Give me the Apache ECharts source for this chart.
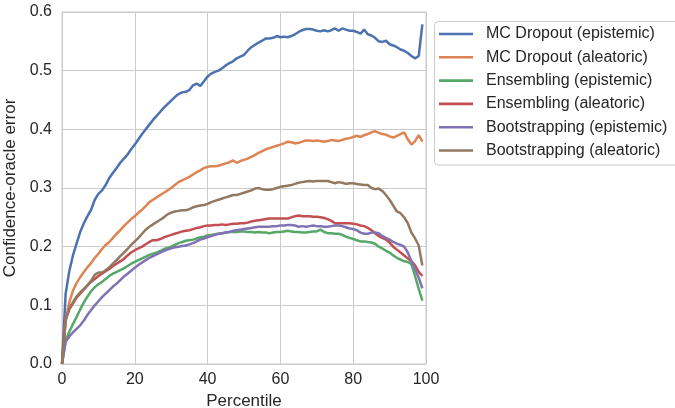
<!DOCTYPE html>
<html>
<head>
<meta charset="utf-8">
<script src="https://cdn.jsdelivr.net/npm/echarts@6/dist/echarts.min.js"></script>
<style>html,body{margin:0;padding:0;background:#fff;}#c{width:675px;height:408px;}</style>
</head>
<body>
<div id="c"></div>
<script>
const percentiles = Array.from({length: 100}, (_, i) => i);
const xTicks = [0, 20, 40, 60, 80, 100];
const yTicks = [0.0, 0.1, 0.2, 0.3, 0.4, 0.5, 0.6];
const seriesNames = ["MC Dropout (epistemic)", "MC Dropout (aleatoric)", "Ensembling (epistemic)", "Ensembling (aleatoric)", "Bootstrapping (epistemic)", "Bootstrapping (aleatoric)"];

const mcEpistemic = [0.0,0.12,0.158,0.185,0.205,0.225,0.24,0.252,0.263,0.28,0.29,0.296,0.305,0.317,0.326,0.334,0.343,0.35,0.357,0.366,0.374,0.383,0.392,0.4,0.408,0.416,0.423,0.43,0.437,0.443,0.449,0.455,0.46,0.463,0.464,0.467,0.475,0.478,0.474,0.482,0.49,0.495,0.498,0.5,0.504,0.509,0.513,0.516,0.521,0.524,0.527,0.534,0.54,0.544,0.548,0.551,0.555,0.555,0.556,0.559,0.557,0.558,0.557,0.559,0.562,0.566,0.569,0.571,0.571,0.57,0.568,0.567,0.569,0.567,0.569,0.572,0.568,0.572,0.57,0.568,0.568,0.566,0.563,0.57,0.562,0.56,0.556,0.55,0.549,0.551,0.545,0.543,0.54,0.536,0.534,0.53,0.525,0.521,0.525,0.579];
const mcAleatoric = [0.0,0.075,0.105,0.125,0.138,0.148,0.157,0.165,0.172,0.181,0.188,0.196,0.203,0.208,0.215,0.222,0.228,0.235,0.241,0.247,0.252,0.258,0.263,0.269,0.276,0.28,0.284,0.288,0.292,0.296,0.3,0.305,0.31,0.313,0.316,0.319,0.323,0.327,0.33,0.334,0.336,0.337,0.337,0.338,0.34,0.342,0.344,0.347,0.343,0.346,0.348,0.35,0.353,0.356,0.36,0.363,0.366,0.368,0.37,0.372,0.374,0.376,0.379,0.378,0.376,0.377,0.379,0.381,0.381,0.38,0.381,0.38,0.379,0.38,0.382,0.381,0.38,0.382,0.384,0.385,0.387,0.389,0.387,0.39,0.392,0.395,0.397,0.394,0.392,0.391,0.388,0.386,0.389,0.392,0.395,0.383,0.374,0.38,0.39,0.379];
const ensEpistemic = [0.0,0.04,0.055,0.068,0.08,0.093,0.105,0.115,0.124,0.131,0.136,0.14,0.145,0.15,0.154,0.157,0.16,0.163,0.167,0.171,0.174,0.177,0.18,0.183,0.186,0.188,0.19,0.193,0.196,0.198,0.2,0.203,0.206,0.208,0.21,0.211,0.212,0.214,0.216,0.217,0.219,0.22,0.221,0.222,0.223,0.224,0.225,0.225,0.225,0.226,0.226,0.225,0.225,0.224,0.225,0.224,0.224,0.223,0.224,0.225,0.225,0.226,0.227,0.226,0.225,0.225,0.224,0.224,0.225,0.226,0.226,0.229,0.225,0.223,0.223,0.222,0.222,0.22,0.217,0.215,0.213,0.211,0.209,0.209,0.208,0.207,0.205,0.2,0.197,0.193,0.19,0.185,0.181,0.178,0.175,0.174,0.17,0.15,0.128,0.108];
const ensAleatoric = [0.0,0.075,0.093,0.103,0.113,0.12,0.127,0.134,0.14,0.145,0.15,0.154,0.158,0.162,0.167,0.171,0.175,0.179,0.185,0.19,0.194,0.197,0.2,0.204,0.208,0.211,0.211,0.213,0.216,0.218,0.22,0.222,0.224,0.226,0.227,0.228,0.23,0.232,0.233,0.235,0.236,0.236,0.237,0.237,0.238,0.237,0.238,0.239,0.239,0.24,0.24,0.241,0.243,0.244,0.245,0.246,0.247,0.248,0.248,0.248,0.248,0.248,0.248,0.25,0.252,0.253,0.252,0.252,0.252,0.251,0.251,0.25,0.249,0.247,0.244,0.24,0.24,0.24,0.24,0.24,0.239,0.238,0.236,0.235,0.232,0.228,0.223,0.218,0.215,0.212,0.207,0.2,0.195,0.19,0.185,0.18,0.175,0.168,0.157,0.15];
const bootEpistemic = [0.0,0.038,0.047,0.054,0.06,0.066,0.074,0.084,0.092,0.1,0.107,0.114,0.12,0.126,0.132,0.137,0.143,0.149,0.154,0.159,0.164,0.169,0.173,0.177,0.181,0.184,0.187,0.19,0.193,0.195,0.197,0.199,0.2,0.201,0.202,0.204,0.206,0.209,0.212,0.214,0.216,0.218,0.22,0.222,0.223,0.224,0.225,0.227,0.228,0.229,0.23,0.231,0.232,0.233,0.234,0.234,0.234,0.234,0.235,0.235,0.236,0.236,0.237,0.237,0.236,0.234,0.235,0.234,0.235,0.236,0.235,0.235,0.234,0.234,0.235,0.236,0.236,0.235,0.233,0.231,0.23,0.228,0.224,0.222,0.222,0.224,0.224,0.223,0.218,0.215,0.212,0.208,0.205,0.203,0.2,0.19,0.175,0.162,0.147,0.129];
const bootAleatoric = [0.0,0.075,0.095,0.105,0.115,0.122,0.128,0.134,0.142,0.152,0.156,0.156,0.16,0.165,0.171,0.177,0.184,0.19,0.196,0.203,0.209,0.215,0.222,0.229,0.234,0.238,0.242,0.246,0.25,0.255,0.258,0.26,0.261,0.262,0.262,0.264,0.267,0.269,0.27,0.271,0.273,0.276,0.278,0.28,0.282,0.284,0.286,0.288,0.288,0.29,0.292,0.294,0.296,0.299,0.3,0.298,0.297,0.297,0.298,0.3,0.302,0.303,0.304,0.305,0.307,0.309,0.31,0.311,0.312,0.311,0.312,0.312,0.312,0.312,0.31,0.308,0.31,0.309,0.307,0.308,0.308,0.307,0.306,0.305,0.305,0.3,0.298,0.299,0.295,0.288,0.28,0.27,0.26,0.257,0.25,0.24,0.224,0.214,0.202,0.168];

const allValues = [mcEpistemic, mcAleatoric, ensEpistemic, ensAleatoric, bootEpistemic, bootAleatoric];
const colors = ["#4C72B0", "#DD8452", "#55A868", "#C44E52", "#8172B3", "#937860"];

const font = "'Liberation Sans', Arial, sans-serif";
const textColor = "#262626";

const chart = echarts.init(document.getElementById('c'), null, {renderer: 'canvas'});
chart.setOption({
  animation: false,
  backgroundColor: '#ffffff',
  grid: {left: 62, right: 249, top: 12, bottom: 44, show: true, borderColor: '#cccccc', borderWidth: 1,
         containLabel: false, outerBoundsMode: 'none'},
  graphic: [{
    type: 'rect', z: 0, silent: true,
    shape: {x: 434.5, y: 21.5, width: 260, height: 143.5, r: 4},
    style: {fill: '#ffffff', stroke: '#cccccc', lineWidth: 1}
  }],
  xAxis: {
    type: 'value', min: 0, max: 100, interval: 20,
    name: 'Percentile', nameLocation: 'middle', nameGap: 25,
    nameTextStyle: {fontFamily: font, fontSize: 17, color: textColor},
    axisLine: {show: true, lineStyle: {color: '#cccccc', width: 1}},
    axisTick: {show: false},
    axisLabel: {fontFamily: font, fontSize: 16, color: textColor, margin: 8,
      formatter: v => xTicks.includes(v) ? String(v) : ''},
    splitLine: {show: true, lineStyle: {color: '#cccccc', width: 1}}
  },
  yAxis: {
    type: 'value', min: 0, max: 0.6, interval: 0.1,
    name: 'Confidence-oracle error', nameLocation: 'middle', nameGap: 38, nameRotate: 90,
    nameTextStyle: {fontFamily: font, fontSize: 17, color: textColor},
    axisLine: {show: true, lineStyle: {color: '#cccccc', width: 1}},
    axisTick: {show: false},
    axisLabel: {fontFamily: font, fontSize: 16, color: textColor, margin: 10,
      formatter: v => { const t = yTicks.find(y => Math.abs(y - v) < 1e-9); return t === undefined ? '' : t.toFixed(1); }},
    splitLine: {show: true, lineStyle: {color: '#cccccc', width: 1}}
  },
  legend: {
    orient: 'vertical', left: 434, top: 22,
    icon: 'rect',
    itemWidth: 34, itemHeight: 2.6, itemGap: 5.3,
    padding: [3, 0, 6, 5],
    borderWidth: 0,
    textStyle: {fontFamily: font, fontSize: 16, color: textColor, lineHeight: 18, padding: [0, 0, 0, 8]},
    data: seriesNames
  },
  series: seriesNames.map((name, i) => ({
    name: name, type: 'line', symbol: 'none', showSymbol: false,
    data: percentiles.map((p, j) => [p, allValues[i][j]]),
    lineStyle: {color: colors[i], width: 2.5},
    itemStyle: {color: colors[i]},
    emphasis: {disabled: true}
  }))
});
</script>
</body>
</html>
